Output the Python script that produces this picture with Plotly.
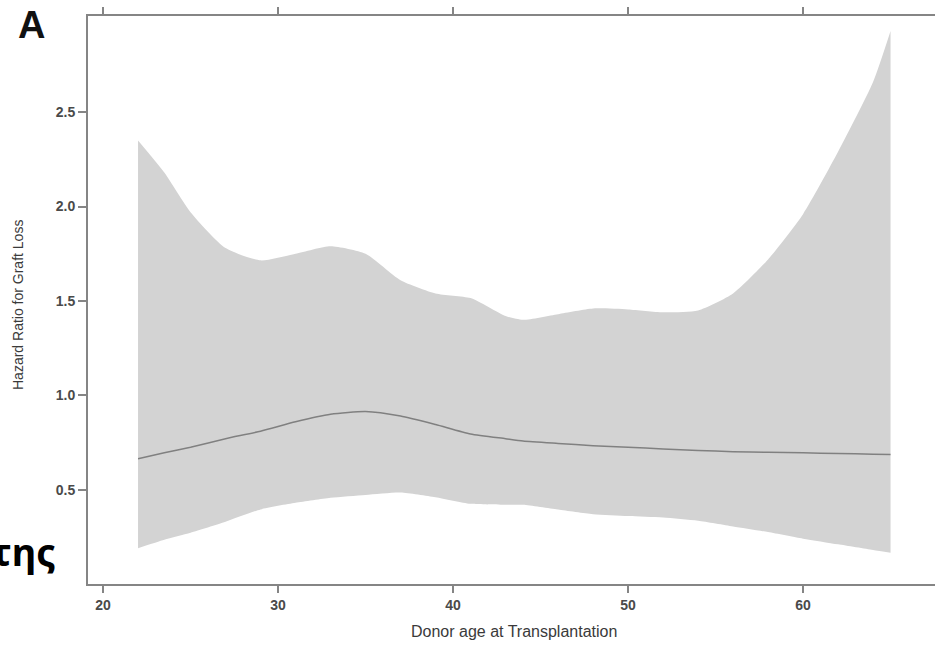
import plotly.graph_objects as go

# Data
age = [22, 23.5, 25, 27, 29, 31, 33, 35, 37, 39, 41, 43, 44, 46, 48, 50, 52, 54, 56, 58, 60, 62, 64, 65]
hr_mean = [0.664, 0.695, 0.725, 0.77, 0.81, 0.86, 0.90, 0.914, 0.89, 0.845, 0.795, 0.77, 0.758, 0.745,
           0.733, 0.725, 0.716, 0.708, 0.701, 0.698, 0.695, 0.692, 0.688, 0.686]
hr_upper = [2.35, 2.18, 1.97, 1.78, 1.715, 1.75, 1.79, 1.75, 1.61, 1.54, 1.515, 1.42, 1.40, 1.43,
            1.46, 1.455, 1.44, 1.45, 1.54, 1.72, 1.96, 2.29, 2.66, 2.93]
hr_lower = [0.19, 0.235, 0.272, 0.33, 0.395, 0.43, 0.457, 0.472, 0.485, 0.46, 0.425, 0.42, 0.42, 0.395,
            0.37, 0.36, 0.352, 0.335, 0.305, 0.275, 0.24, 0.21, 0.18, 0.166]
x_ticks = [20, 30, 40, 50, 60]
y_ticks = [0.5, 1.0, 1.5, 2.0, 2.5]

band = "#d3d3d3"

fig = go.Figure()
fig.add_trace(go.Scatter(x=age, y=hr_lower, mode="lines", line=dict(width=0, color=band, shape="spline", smoothing=0.6),
                         showlegend=False, hoverinfo="skip"))
fig.add_trace(go.Scatter(x=age, y=hr_upper, mode="lines", line=dict(width=0, color=band, shape="spline", smoothing=0.6),
                         fill="tonexty", fillcolor=band, showlegend=False, hoverinfo="skip"))
fig.add_trace(go.Scatter(x=age, y=hr_mean, mode="lines", line=dict(width=1.5, color="#808080", shape="spline", smoothing=0.6),
                         showlegend=False))

W, H = 935, 646
ml, mr, mt, mb = 88, 0, 16, 62
pw = W - ml - mr
ph = H - mt - mb

def px_x(px):
    return (px - ml) / pw

def px_y(py):
    return (H - mb - py) / ph

tickfont = dict(family="Liberation Sans, Arial, sans-serif", size=14, color="#4a4a4a")

fig.update_layout(
    width=W, height=H,
    margin=dict(l=ml, r=mr, t=mt, b=mb, pad=0),
    paper_bgcolor="white", plot_bgcolor="white",
    xaxis=dict(range=[19.14, 67.54], tickvals=x_ticks, ticktext=["<b>%d</b>" % v for v in x_ticks],
               showline=True, linecolor="#858585", linewidth=2, mirror="ticks",
               ticks="outside", ticklen=7, tickwidth=1.5, tickcolor="#858585",
               showgrid=False, zeroline=False, tickfont=tickfont),
    yaxis=dict(range=[0, 3.01], tickvals=y_ticks, ticktext=["<b>%.1f</b>" % v for v in y_ticks],
               showline=True, linecolor="#858585", linewidth=2, mirror=False,
               ticks="outside", ticklen=8, tickwidth=1.5, tickcolor="#858585",
               showgrid=False, zeroline=False, tickfont=tickfont),
    annotations=[
        dict(text="Hazard Ratio for Graft Loss", xref="paper", yref="paper",
             x=px_x(18), y=px_y(305), textangle=-90,
             showarrow=False, xanchor="center", yanchor="middle",
             font=dict(family="Liberation Sans, Arial, sans-serif", size=14, color="#3a3a3a")),
        dict(text="Donor age at Transplantation", xref="paper", yref="paper",
             x=px_x(514), y=px_y(632),
             showarrow=False, xanchor="center", yanchor="middle",
             font=dict(family="Liberation Sans, Arial, sans-serif", size=16, color="#3a3a3a")),
        dict(text="<b>A</b>", xref="paper", yref="paper",
             x=px_x(31), y=px_y(25),
             showarrow=False, xanchor="center", yanchor="middle",
             font=dict(family="Liberation Sans, Arial, sans-serif", size=38, color="#111111")),
        dict(text="<b>της</b>", xref="paper", yref="paper",
             x=px_x(58), y=px_y(551),
             showarrow=False, xanchor="right", yanchor="middle",
             font=dict(family="Noto Sans, Open Sans, sans-serif", size=38, color="#000000")),
    ],
)

fig.write_html("out.html", config={"displayModeBar": False},
               post_script="document.body.style.margin='0';document.body.style.overflow='hidden';")
